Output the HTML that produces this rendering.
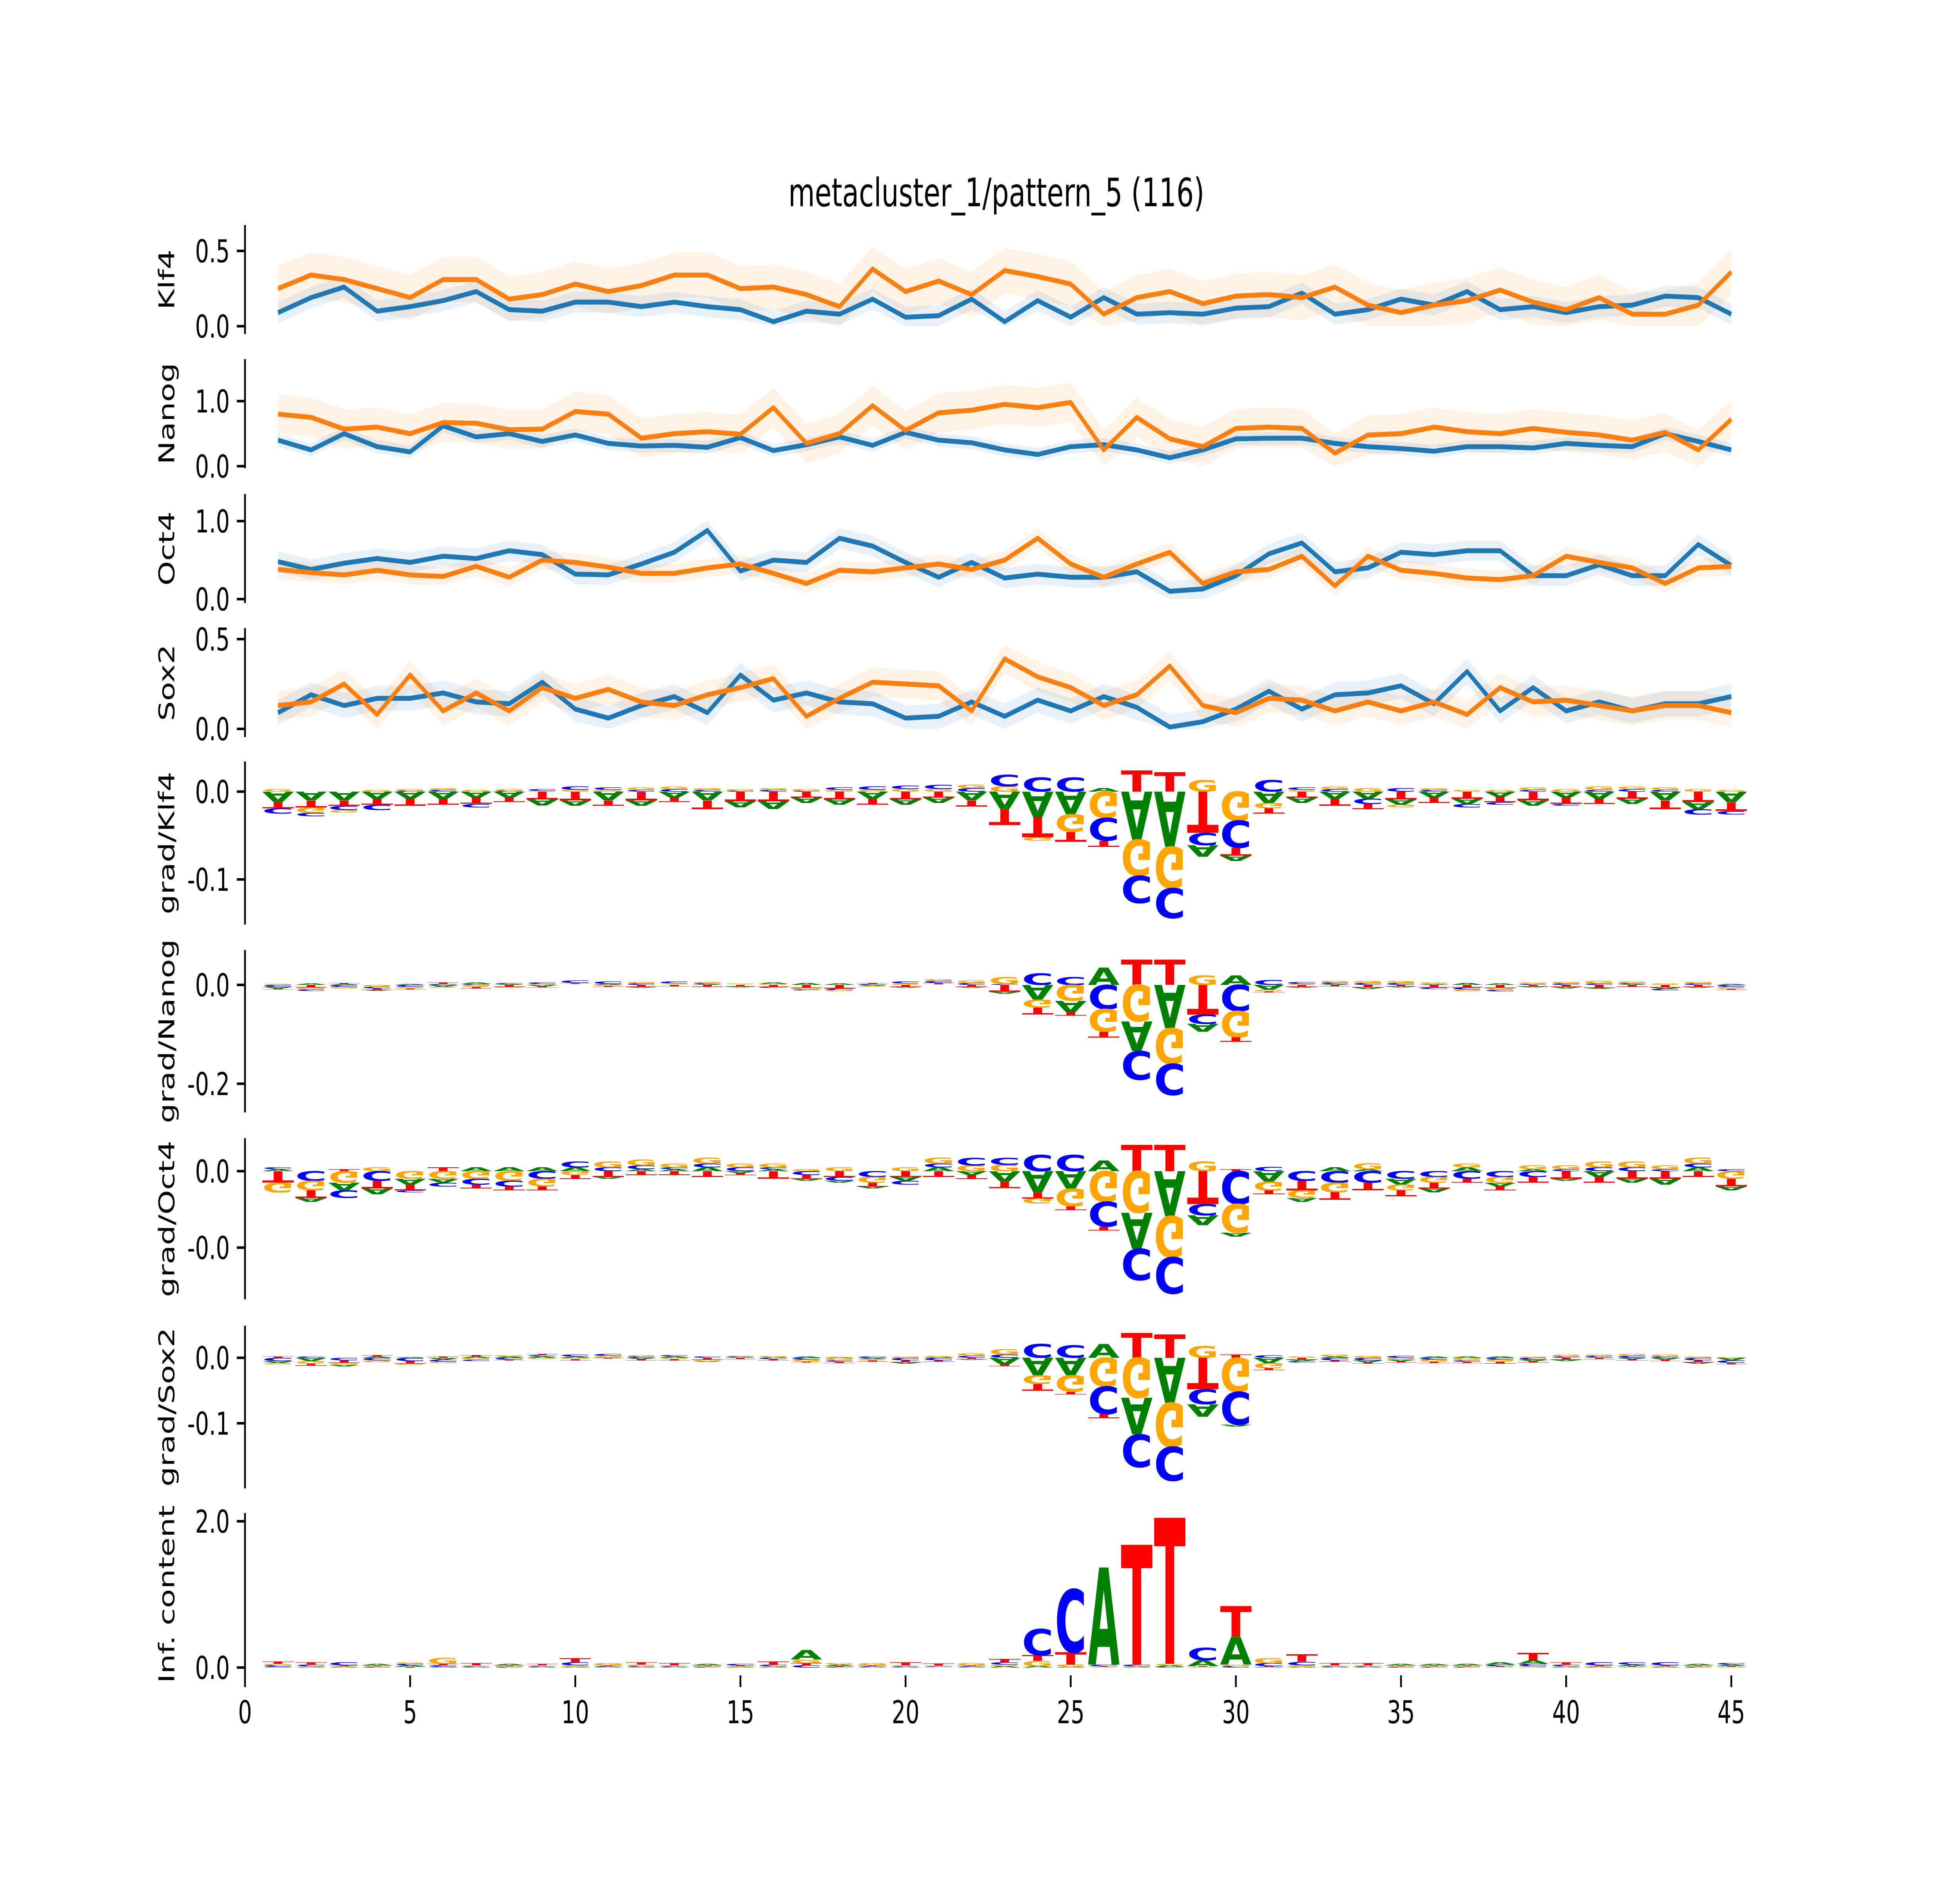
<!DOCTYPE html>
<html><head><meta charset="utf-8"><style>
html,body{margin:0;padding:0;background:#fff;width:100%;height:100%;overflow:hidden}
svg{display:block;width:100vw;height:100vh}
text{font-family:"DejaVu Sans","Liberation Sans",sans-serif}
</style></head><body>
<svg id="fig" xmlns="http://www.w3.org/2000/svg" viewBox="0 0 7200 4800" preserveAspectRatio="none">
<rect x="0" y="0" width="7200" height="4800" fill="#fff"/>
<text x="3660" y="526" font-size="100" text-anchor="middle">metacluster_1/pattern_5 (116)</text>
<g id="plots"></g>
</svg>
<script>
// ---- profile data (positions 1..45) ----
const positions = [1,2,3,4,5,6,7,8,9,10,11,12,13,14,15,16,17,18,19,20,21,22,23,24,25,26,27,28,29,30,31,32,33,34,35,36,37,38,39,40,41,42,43,44,45];
const klf4Blue = [0.09,0.19,0.26,0.1,0.13,0.17,0.23,0.11,0.1,0.16,0.16,0.13,0.16,0.13,0.11,0.03,0.1,0.08,0.18,0.06,0.07,0.18,0.03,0.17,0.06,0.19,0.08,0.09,0.08,0.12,0.13,0.22,0.08,0.11,0.18,0.14,0.23,0.11,0.13,0.09,0.13,0.14,0.2,0.19,0.08];
const klf4Orange = [0.25,0.34,0.31,0.25,0.19,0.31,0.31,0.18,0.21,0.28,0.23,0.27,0.34,0.34,0.25,0.26,0.21,0.13,0.38,0.23,0.3,0.21,0.37,0.33,0.28,0.08,0.19,0.23,0.15,0.2,0.21,0.19,0.26,0.14,0.09,0.14,0.17,0.24,0.16,0.11,0.19,0.08,0.08,0.14,0.36];
const nanogBlue = [0.4,0.25,0.5,0.3,0.22,0.62,0.45,0.5,0.38,0.48,0.35,0.31,0.32,0.29,0.44,0.24,0.33,0.45,0.32,0.52,0.4,0.36,0.25,0.18,0.3,0.33,0.25,0.13,0.25,0.42,0.43,0.43,0.35,0.3,0.27,0.23,0.3,0.3,0.28,0.35,0.32,0.3,0.5,0.38,0.25];
const nanogOrange = [0.8,0.75,0.57,0.6,0.5,0.67,0.66,0.56,0.57,0.84,0.8,0.43,0.5,0.53,0.49,0.9,0.35,0.5,0.93,0.55,0.82,0.86,0.95,0.9,0.98,0.25,0.75,0.42,0.3,0.58,0.6,0.58,0.2,0.48,0.5,0.6,0.53,0.5,0.58,0.52,0.48,0.4,0.52,0.25,0.72];
const oct4Blue = [0.48,0.38,0.46,0.52,0.47,0.55,0.52,0.62,0.57,0.32,0.31,0.45,0.6,0.88,0.36,0.5,0.47,0.78,0.68,0.47,0.28,0.47,0.27,0.32,0.28,0.28,0.35,0.1,0.13,0.3,0.58,0.72,0.35,0.4,0.6,0.57,0.62,0.62,0.3,0.3,0.44,0.3,0.3,0.7,0.43];
const oct4Orange = [0.38,0.34,0.31,0.37,0.31,0.29,0.42,0.28,0.5,0.47,0.41,0.33,0.33,0.4,0.45,0.33,0.2,0.37,0.35,0.4,0.45,0.38,0.5,0.78,0.45,0.28,0.45,0.6,0.2,0.35,0.38,0.55,0.17,0.55,0.37,0.33,0.27,0.25,0.3,0.55,0.47,0.4,0.2,0.4,0.42];
const sox2Blue = [0.09,0.19,0.13,0.17,0.17,0.2,0.15,0.14,0.26,0.11,0.06,0.13,0.18,0.09,0.3,0.16,0.2,0.15,0.14,0.06,0.07,0.15,0.07,0.16,0.1,0.18,0.12,0.01,0.04,0.11,0.21,0.11,0.19,0.2,0.24,0.14,0.32,0.1,0.23,0.1,0.15,0.1,0.14,0.14,0.18];
const sox2Orange = [0.13,0.15,0.25,0.08,0.3,0.1,0.2,0.1,0.23,0.17,0.22,0.15,0.13,0.19,0.23,0.28,0.07,0.17,0.26,0.25,0.24,0.1,0.39,0.29,0.23,0.13,0.19,0.35,0.13,0.09,0.17,0.16,0.1,0.15,0.1,0.15,0.08,0.23,0.15,0.16,0.13,0.1,0.13,0.13,0.09];
const bandBlue = [0.07,0.1,0.13,0.07];
const bandOrange = [0.15,0.3,0.12,0.08];
// ---- contribution logos ----
const kA=[-0.012,-0.01,-0.01,-0.008,-0.008,-0.008,-0.007,-0.007,-0.007,-0.006,-0.01,-0.006,-0.007,-0.01,-0.007,-0.009,-0.006,-0.006,-0.008,-0.006,-0.006,-0.01,-0.02,-0.029,-0.026,0.004,-0.055,-0.063,-0.013,-0.006,-0.013,-0.006,-0.008,-0.008,-0.006,-0.007,-0.006,-0.006,-0.006,-0.007,-0.008,-0.006,-0.01,-0.008,-0.012];
const kC=[-0.006,-0.004,-0.005,-0.006,0.001,0.002,-0.004,0.001,0.002,0.004,0.003,0.002,0.003,0.002,0.001,0.002,0.001,0.003,0.004,0.004,0.005,0.004,0.013,0.016,0.016,-0.026,-0.031,-0.034,-0.014,-0.031,0.013,0.003,0.003,-0.006,0.004,0.002,-0.004,-0.003,0.002,-0.002,0.002,0.003,0.002,-0.006,-0.004];
const kG=[0.003,-0.006,-0.003,0.002,0.002,0.002,0.002,0.002,0.001,0.002,0.002,0.003,0.003,0.002,0.002,0.002,0.002,0.002,0.002,0.003,0.003,0.004,0.006,-0.004,-0.02,-0.03,-0.041,-0.047,0.013,-0.033,-0.006,0.002,0.003,0.004,-0.003,0.002,0.002,0.002,0.003,0.003,0.004,0.003,0.003,0.003,0.002];
const kT=[-0.007,-0.008,-0.006,-0.007,-0.008,-0.007,-0.007,-0.005,-0.009,-0.01,-0.006,-0.01,-0.005,-0.01,-0.011,-0.011,-0.007,-0.009,-0.007,-0.009,-0.007,-0.007,-0.018,-0.023,-0.011,-0.007,0.024,0.022,-0.047,-0.009,-0.006,-0.007,-0.008,-0.006,-0.009,-0.006,-0.008,-0.006,-0.01,-0.007,-0.006,-0.008,-0.01,-0.012,-0.01];
const nA=[-0.003,0.003,0.002,-0.002,0.002,-0.004,0.003,0.002,-0.003,0.001,0.002,-0.002,0.001,0.002,-0.002,0.003,0.004,0.003,-0.002,-0.002,0.001,-0.002,-0.004,-0.03,-0.023,0.035,-0.06,-0.088,-0.016,0.019,-0.01,-0.002,0.002,-0.003,-0.002,0.002,0.004,0.003,-0.002,-0.003,-0.002,0.002,-0.003,-0.002,0.002];
const nC=[-0.004,-0.003,-0.004,-0.003,-0.004,0.002,0.002,0.002,0.003,0.005,0.005,0.003,0.004,0.002,0.001,-0.002,-0.002,-0.003,0.002,0.004,0.004,0.004,0.002,0.023,0.016,-0.049,-0.058,-0.063,-0.019,-0.053,0.01,0.004,0.003,0.004,0.004,-0.003,-0.004,-0.003,0.002,0.003,0.003,0.002,-0.003,0.003,-0.004];
const nG=[0.002,-0.004,-0.003,-0.004,-0.003,-0.002,-0.004,-0.002,0.002,0.001,-0.002,0.003,0.002,0.002,0.002,0.002,-0.003,-0.003,-0.002,0.003,0.004,0.005,0.014,-0.016,-0.032,-0.046,-0.074,-0.072,0.019,-0.053,-0.003,0.002,0.003,0.004,0.004,0.003,-0.004,-0.004,0.003,0.003,0.005,0.003,0.003,0.003,-0.004];
const nT=[-0.002,-0.005,0.002,-0.003,-0.002,0.003,-0.003,-0.004,-0.002,0.002,-0.002,-0.004,-0.003,-0.004,-0.003,-0.004,-0.006,-0.007,0.002,-0.004,0.003,-0.004,-0.014,-0.014,-0.007,-0.012,0.051,0.051,-0.06,-0.009,-0.002,-0.004,-0.003,-0.005,-0.003,-0.005,-0.005,-0.006,-0.003,-0.004,-0.006,-0.004,-0.005,-0.004,-0.002];
const oA=[0.001,-0.002,-0.004,-0.003,-0.003,-0.002,0.002,0.002,0.002,0.002,-0.001,0.001,0.001,0.002,-0.001,0.001,-0.001,-0.001,-0.001,-0.002,0.002,-0.002,-0.0055,-0.011,-0.0092,0.0056,-0.0189,-0.0236,-0.0052,-0.002,-0.0055,-0.002,0.002,0.001,-0.003,-0.002,0.002,-0.002,0.001,-0.001,-0.003,-0.002,-0.003,0.002,-0.002];
const oC=[0.001,-0.005,-0.004,-0.005,-0.001,-0.002,-0.003,-0.003,-0.004,0.003,0.002,0.002,0.001,0.002,0.002,0.001,-0.002,-0.002,-0.003,-0.002,0.002,0.004,0.0037,0.0085,0.0085,-0.013,-0.0164,-0.019,-0.0059,-0.0172,0.0023,-0.005,-0.006,-0.006,-0.004,-0.003,-0.004,-0.003,-0.003,0.001,0.002,0.002,0.001,0.002,0.001];
const oG=[-0.005,-0.005,-0.006,0.002,-0.004,-0.004,-0.004,-0.005,-0.004,-0.002,0.003,0.003,0.002,0.003,0.002,0.002,0.001,0.002,-0.003,0.002,0.003,0.003,0.0033,-0.0026,-0.0092,-0.016,-0.0217,-0.0215,0.005,-0.015,-0.0046,-0.004,-0.005,0.003,-0.003,-0.003,0.002,-0.003,0.002,0.002,0.003,0.003,0.002,0.003,-0.004];
const oT=[-0.006,-0.004,0.001,-0.004,-0.003,0.002,-0.002,-0.002,-0.002,-0.002,-0.003,-0.002,-0.002,-0.003,-0.001,-0.004,-0.002,-0.003,-0.002,-0.003,-0.003,-0.002,-0.0033,-0.0033,-0.002,-0.002,0.0137,0.0137,-0.0172,0.001,-0.002,-0.005,-0.004,-0.004,-0.003,-0.003,-0.002,-0.002,-0.003,-0.004,-0.003,-0.004,-0.004,-0.003,-0.004];
const sA=[-0.003,-0.005,-0.002,0.002,0.001,-0.003,0.002,0.002,0.002,0.002,0.001,-0.002,0.002,-0.001,0.001,0.001,0.002,0.001,-0.002,-0.002,0.001,-0.001,-0.01,-0.027,-0.027,0.021,-0.056,-0.069,-0.019,-0.003,-0.008,-0.002,0.002,-0.003,-0.002,0.002,0.002,0.002,-0.002,-0.002,0.001,-0.002,-0.003,-0.002,-0.004];
const sC=[-0.005,0.002,-0.004,-0.004,-0.005,-0.003,-0.002,-0.003,0.002,0.003,0.003,0.002,0.002,0.002,0.001,-0.002,-0.003,-0.002,0.002,-0.004,-0.004,0.003,0.005,0.021,0.019,-0.042,-0.05,-0.052,-0.023,-0.05,0.004,-0.002,-0.004,-0.004,0.003,-0.003,-0.002,-0.003,-0.003,0.002,0.002,0.003,0.002,-0.004,-0.004];
const sG=[-0.002,-0.004,-0.003,-0.003,-0.002,-0.002,-0.003,0.002,-0.002,-0.002,0.002,0.002,-0.002,-0.002,0.001,0.002,-0.003,-0.004,-0.002,0.002,0.002,0.004,0.008,-0.013,-0.025,-0.044,-0.061,-0.067,0.018,-0.052,-0.008,0.002,0.003,0.003,-0.003,-0.003,-0.004,-0.003,0.002,0.003,0.002,0.003,0.003,0.002,0.001];
const sT=[0.002,-0.003,-0.004,0.002,-0.004,0.002,0.002,-0.001,0.002,-0.002,-0.001,-0.002,-0.002,-0.003,-0.002,-0.002,-0.001,-0.002,-0.002,-0.003,-0.002,-0.002,-0.003,-0.01,-0.004,-0.006,0.038,0.036,-0.048,0.005,-0.003,-0.003,-0.002,-0.002,-0.002,-0.002,-0.002,-0.003,-0.002,-0.003,-0.002,-0.002,-0.002,-0.003,-0.002];
const icA=[0.01,0.01,0.01,0.02,0.02,0.01,0.01,0.02,0.01,0.01,0.01,0.01,0.01,0.02,0.01,0.01,0.13,0.02,0.01,0.01,0.005,0.01,0.02,0.02,0.01,1.33,0.01,0.02,0.08,0.38,0.01,0.01,0.01,0.01,0.02,0.02,0.02,0.03,0.05,0.01,0.01,0.02,0.01,0.02,0.02];
const icC=[0.02,0.02,0.04,0.01,0.02,0.02,0.01,0.01,0.01,0.04,0.01,0.01,0.01,0.01,0.02,0.02,0.03,0.01,0.01,0.01,0.01,0.01,0.03,0.36,0.86,0.02,0.02,0.01,0.17,0.02,0.04,0.05,0.01,0.01,0.01,0.01,0.01,0.02,0.03,0.02,0.04,0.03,0.04,0.01,0.02];
const icG=[0.02,0.01,0.01,0.01,0.02,0.08,0.01,0.01,0.01,0.02,0.03,0.02,0.01,0.01,0.01,0.01,0.05,0.02,0.03,0.01,0.01,0.03,0.02,0.07,0.03,0.01,0.01,0.02,0.01,0.02,0.07,0.02,0.01,0.01,0.01,0.01,0.01,0.01,0.02,0.01,0.01,0.01,0.01,0.01,0.01];
const icT=[0.03,0.03,0.01,0.01,0.01,0.02,0.03,0.01,0.02,0.06,0.01,0.03,0.03,0.01,0.01,0.04,0.03,0.01,0.01,0.04,0.03,0.01,0.05,0.08,0.17,0.01,1.64,2.0,0.01,0.42,0.01,0.1,0.03,0.03,0.01,0.01,0.01,0.01,0.1,0.03,0.01,0.01,0.01,0.01,0.01];
const xTicks = [0,5,10,15,20,25,30,35,40,45];

const NS='http://www.w3.org/2000/svg';
const root=document.getElementById('plots');
function mk(tag, attrs, parent){const e=document.createElementNS(NS,tag);for(const k in attrs)e.setAttribute(k,attrs[k]);(parent||root).appendChild(e);return e;}
const X0=900, XU=121.33;
function xs(v){return X0+v*XU;}
function yScale(p){return v=>p.y0+(v-p.v0)*(p.y1-p.y0)/(p.v1-p.v0);}

const panels=[
 {id:'klf4',label:'Klf4',v0:0,y0:832,v1:0.5,y1:640,top:574,bot:852,ticks:[[0,'0.0'],[0.5,'0.5']]},
 {id:'nanog',label:'Nanog',v0:0,y0:1189,v1:1,y1:1023,top:916,bot:1194,ticks:[[0,'0.0'],[1,'1.0']]},
 {id:'oct4',label:'Oct4',v0:0,y0:1528,v1:1,y1:1329,top:1260,bot:1538,ticks:[[0,'0.0'],[1,'1.0']]},
 {id:'sox2',label:'Sox2',v0:0,y0:1859,v1:0.5,y1:1630,top:1602,bot:1880,ticks:[[0,'0.0'],[0.5,'0.5']]},
 {id:'grad-klf4',label:'grad/Klf4',v0:0,y0:2019,v1:-0.1,y1:2243,top:1942,bot:2358,ticks:[[0,'0.0'],[-0.1,'-0.1']]},
 {id:'grad-nanog',label:'grad/Nanog',v0:0,y0:2512,v1:-0.2,y1:2764,top:2423,bot:2837,ticks:[[0,'0.0'],[-0.2,'-0.2']]},
 {id:'grad-oct4',label:'grad/Oct4',v0:0,y0:2987,v1:-0.04,y1:3182,top:2903,bot:3314,ticks:[[0,'0.0'],[-0.04,'-0.0']]},
 {id:'grad-sox2',label:'grad/Sox2',v0:0,y0:3463,v1:-0.1,y1:3630,top:3381,bot:3796,ticks:[[0,'0.0'],[-0.1,'-0.1']]},
 {id:'inf-content',label:'Inf. content',v0:0,y0:4253,v1:2,y1:3880,top:3859,bot:4273,ticks:[[0,'0.0'],[2,'2.0']]}
];
const lineData=[[klf4Blue,klf4Orange],[nanogBlue,nanogOrange],[oct4Blue,oct4Orange],[sox2Blue,sox2Orange]];
const logoData=[[kA,kC,kG,kT],[nA,nC,nG,nT],[oA,oC,oG,oT],[sA,sC,sG,sT],[icA,icC,icG,icT]];
const letters=['A','C','G','T'];
const colors={A:'#008000',C:'#0000ff',G:'#ffa500',T:'#ff0000'};

function drawAxis(p,g){
  const sp=mk('line',{x1:X0,x2:X0,y1:p.top,y2:p.bot,stroke:'#000','stroke-width':6.5},g);
  
  
  p.ticks.forEach(t=>{
    const y=yScale(p)(t[0]);
    const tk=mk('line',{x1:X0-30,x2:X0,y1:y,y2:y,stroke:'#000','stroke-width':6.5},g);
    
    
    const tl=mk('text',{x:X0-56,y:y+29,'font-size':80,'text-anchor':'end'},g);
    tl.textContent=t[1];
    
    
  });
  const cy=(p.top+p.bot)/2;
  const lb=mk('text',{x:0,y:0,'font-size':80,'text-anchor':'middle',transform:'translate(640,'+cy+') rotate(-90)'},g);
  lb.textContent=p.label;
  
  
}

function drawLines(p,idx,g){
  const ys=yScale(p);
  const series=lineData[idx];
  const cols=['#1f77b4','#ff7f0e'];
  const bands=[bandBlue[idx],bandOrange[idx]];
  [1,0].forEach(s=>{
    const vals=series[s];
    let up=positions.map((x,i)=>xs(x)+','+ys(vals[i]+bands[s]));
    let dn=positions.map((x,i)=>xs(x)+','+ys(Math.max(0,vals[i]-bands[s]))).reverse();
    const b=mk('polygon',{points:up.concat(dn).join(' '),fill:cols[s],'fill-opacity':0.1,stroke:'none'},g);
    
    
  });
  [0,1].forEach(s=>{
    const vals=series[s];
    const pts=positions.map((x,i)=>xs(x)+','+ys(vals[i])).join(' ');
    const l=mk('polyline',{points:pts,fill:'none',stroke:cols[s],'stroke-width':12.5,'stroke-linejoin':'round'},g);
    
    
  });
}

function drawLetter(g,ch,xc,yA,yB,flip,name){
  const h=Math.abs(yB-yA); if(h<1.5) return;
  const w=XU*0.96;
  const sx=w/100, sy=h/73;
  let tr;
  if(!flip){ tr='translate('+(xc-w/2)+','+Math.max(yA,yB)+') scale('+sx+','+sy+')'; }
  else { tr='translate('+(xc-w/2)+','+Math.min(yA,yB)+') scale('+sx+','+(-sy)+')'; }
  const t=mk('text',{x:0,y:0,'font-size':100,'font-weight':'bold',fill:colors[ch],textLength:100,lengthAdjust:'spacingAndGlyphs',transform:tr},g);
  t.textContent=ch;
  
  
}

function drawLogo(p,idx,g){
  const ys=yScale(p);
  const arrs=logoData[idx];
  positions.forEach((pos,i)=>{
    const xc=xs(pos);
    const vals=letters.map((L,k)=>({L,v:arrs[k][i]}));
    const pos_=vals.filter(o=>o.v>0).sort((a,b)=>a.v-b.v);
    const neg=vals.filter(o=>o.v<0).sort((a,b)=>a.v-b.v);
    let acc=0;
    pos_.forEach(o=>{drawLetter(g,o.L,xc,ys(acc),ys(acc+o.v),false,p.id+'-letter-'+o.L+'-pos'+pos);acc+=o.v;});
    acc=0;
    neg.forEach(o=>{drawLetter(g,o.L,xc,ys(acc),ys(acc+o.v),true,p.id+'-letter-'+o.L+'-pos'+pos);acc+=o.v;});
  });
}

panels.forEach((p,idx)=>{
  const g=mk('g',{});
  
  
  if(idx<4) drawLines(p,idx,g); else drawLogo(p,idx-4,g);
  drawAxis(p,g);
});

const xg=mk('g',{});


xTicks.forEach(v=>{
  const x=xs(v);
  const tk=mk('line',{x1:x,x2:x,y1:4273,y2:4303,stroke:'#000','stroke-width':6.5},xg);
  
  
  const tl=mk('text',{x:x,y:4395,'font-size':80,'text-anchor':'middle'},xg);
  tl.textContent=String(v);
  
  
});
</script>
</body></html>
